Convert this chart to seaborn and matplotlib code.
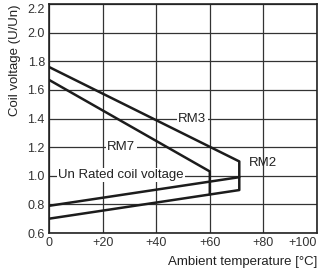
import matplotlib
matplotlib.use("Agg")
import seaborn as sns
from matplotlib import pyplot as plt

# operating range curves
temp_rm3 = [0, 71, 71, 0]
volt_rm3 = [1.76, 1.10, 0.90, 0.70]
temp_rm7 = [0, 60, 60]
volt_rm7 = [1.67, 1.03, 0.87]
temp_rm2 = [0, 71]
volt_rm2 = [0.79, 0.99]

x_ticks = [0, 20, 40, 60, 80, 100]
x_tick_labels = ["0", "+20", "+40", "+60", "+80", "+100"]
y_ticks = [0.6, 0.8, 1.0, 1.2, 1.4, 1.6, 1.8, 2.0, 2.2]

sns.set_style("white")
plt.rcParams["font.family"] = ["Liberation Sans", "DejaVu Sans"]

fig = plt.figure(figsize=(3.25, 2.71), dpi=100)
ax = fig.add_axes([49 / 325, 1 - 233 / 271, 268 / 325, 229 / 271])

ink = "#1c1c1c"
for xs, ys in [(temp_rm3, volt_rm3), (temp_rm7, volt_rm7), (temp_rm2, volt_rm2)]:
    sns.lineplot(x=xs, y=ys, sort=False, estimator=None, color=ink, lw=1.8, ax=ax, zorder=3)

ax.set_xlim(0, 100)
ax.set_ylim(0.6, 2.2)
ax.set_xticks(x_ticks)
ax.set_xticklabels(x_tick_labels)
ax.set_yticks(y_ticks)
ax.set_yticklabels([f"{v:.1f}" for v in y_ticks])
ax.tick_params(labelsize=9, length=0, pad=3, colors="#333333")
# keep the end labels inside the figure, as in the reference
ax.get_xticklabels()[-1].set_ha("right")
ax.get_xticklabels()[-1].set_x(101)
ax.get_yticklabels()[-1].set_va("top")
ax.grid(True, color="#333333", lw=0.9)
ax.set_axisbelow(True)
for s in ax.spines.values():
    s.set_color("#222222")
    s.set_linewidth(1.2)

box = dict(facecolor="white", edgecolor="none", pad=1.0)
txt = dict(fontsize=9.5, color="#222222", zorder=2)
ax.text(53.5, 1.4, "RM3", ha="center", va="center", bbox=box, **txt)
ax.text(27, 1.2, "RM7", ha="center", va="center", bbox=box, **txt)
ax.text(3.5, 1.005, "Un Rated coil voltage", ha="left", va="center", bbox=box, **txt)
ax.text(74.5, 1.09, "RM2", ha="left", va="center", **txt)

ax.set_xlabel("Ambient temperature [°C]", loc="right", fontsize=9.5, labelpad=5, color="#222222")
ax.set_ylabel("Coil voltage (U/Un)", loc="top", fontsize=9.5, labelpad=5, color="#222222")

fig.savefig("out.png", dpi=100)
